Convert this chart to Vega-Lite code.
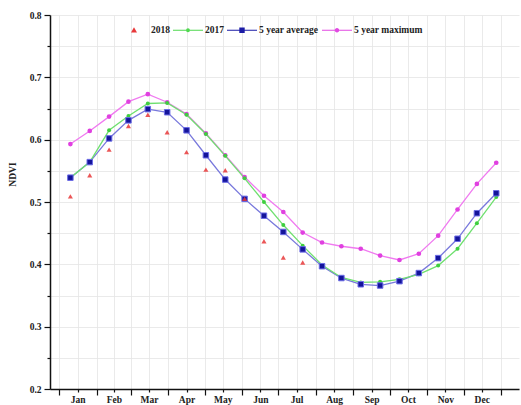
{
  "$schema": "https://vega.github.io/schema/vega-lite/v6.json",
  "width": 469,
  "height": 374,
  "autosize": "none",
  "padding": {"left": 50, "top": 15, "right": 2, "bottom": 16},
  "background": "white",
  "view": {"stroke": null},
  "data": {"values": [
    {"s": "2018", "d": 9, "v": 0.509}, {"s": "2018", "d": 25, "v": 0.543}, {"s": "2018", "d": 41, "v": 0.584},
    {"s": "2018", "d": 57, "v": 0.622}, {"s": "2018", "d": 73, "v": 0.640}, {"s": "2018", "d": 89, "v": 0.612},
    {"s": "2018", "d": 105, "v": 0.580}, {"s": "2018", "d": 121, "v": 0.552}, {"s": "2018", "d": 137, "v": 0.551},
    {"s": "2018", "d": 153, "v": 0.505}, {"s": "2018", "d": 169, "v": 0.437}, {"s": "2018", "d": 185, "v": 0.411},
    {"s": "2018", "d": 201, "v": 0.403},
    {"s": "2017", "d": 9, "v": 0.539}, {"s": "2017", "d": 25, "v": 0.564}, {"s": "2017", "d": 41, "v": 0.615},
    {"s": "2017", "d": 57, "v": 0.638}, {"s": "2017", "d": 73, "v": 0.658}, {"s": "2017", "d": 89, "v": 0.659},
    {"s": "2017", "d": 105, "v": 0.640}, {"s": "2017", "d": 121, "v": 0.609}, {"s": "2017", "d": 137, "v": 0.574},
    {"s": "2017", "d": 153, "v": 0.538}, {"s": "2017", "d": 169, "v": 0.500}, {"s": "2017", "d": 185, "v": 0.463},
    {"s": "2017", "d": 201, "v": 0.430}, {"s": "2017", "d": 217, "v": 0.399}, {"s": "2017", "d": 233, "v": 0.379},
    {"s": "2017", "d": 249, "v": 0.371}, {"s": "2017", "d": 265, "v": 0.372}, {"s": "2017", "d": 281, "v": 0.376},
    {"s": "2017", "d": 297, "v": 0.384}, {"s": "2017", "d": 313, "v": 0.398}, {"s": "2017", "d": 329, "v": 0.425},
    {"s": "2017", "d": 345, "v": 0.466}, {"s": "2017", "d": 361, "v": 0.508},
    {"s": "5 year average", "d": 9, "v": 0.539}, {"s": "5 year average", "d": 25, "v": 0.564}, {"s": "5 year average", "d": 41, "v": 0.602},
    {"s": "5 year average", "d": 57, "v": 0.631}, {"s": "5 year average", "d": 73, "v": 0.649}, {"s": "5 year average", "d": 89, "v": 0.644},
    {"s": "5 year average", "d": 105, "v": 0.615}, {"s": "5 year average", "d": 121, "v": 0.575}, {"s": "5 year average", "d": 137, "v": 0.536},
    {"s": "5 year average", "d": 153, "v": 0.505}, {"s": "5 year average", "d": 169, "v": 0.478}, {"s": "5 year average", "d": 185, "v": 0.452},
    {"s": "5 year average", "d": 201, "v": 0.424}, {"s": "5 year average", "d": 217, "v": 0.397}, {"s": "5 year average", "d": 233, "v": 0.378},
    {"s": "5 year average", "d": 249, "v": 0.368}, {"s": "5 year average", "d": 265, "v": 0.366}, {"s": "5 year average", "d": 281, "v": 0.373},
    {"s": "5 year average", "d": 297, "v": 0.386}, {"s": "5 year average", "d": 313, "v": 0.410}, {"s": "5 year average", "d": 329, "v": 0.441},
    {"s": "5 year average", "d": 345, "v": 0.482}, {"s": "5 year average", "d": 361, "v": 0.514},
    {"s": "5 year maximum", "d": 9, "v": 0.593}, {"s": "5 year maximum", "d": 25, "v": 0.614}, {"s": "5 year maximum", "d": 41, "v": 0.637},
    {"s": "5 year maximum", "d": 57, "v": 0.661}, {"s": "5 year maximum", "d": 73, "v": 0.673}, {"s": "5 year maximum", "d": 89, "v": 0.660},
    {"s": "5 year maximum", "d": 105, "v": 0.641}, {"s": "5 year maximum", "d": 121, "v": 0.610}, {"s": "5 year maximum", "d": 137, "v": 0.575},
    {"s": "5 year maximum", "d": 153, "v": 0.540}, {"s": "5 year maximum", "d": 169, "v": 0.510}, {"s": "5 year maximum", "d": 185, "v": 0.484},
    {"s": "5 year maximum", "d": 201, "v": 0.451}, {"s": "5 year maximum", "d": 217, "v": 0.435}, {"s": "5 year maximum", "d": 233, "v": 0.429},
    {"s": "5 year maximum", "d": 249, "v": 0.425}, {"s": "5 year maximum", "d": 265, "v": 0.414}, {"s": "5 year maximum", "d": 281, "v": 0.407},
    {"s": "5 year maximum", "d": 297, "v": 0.417}, {"s": "5 year maximum", "d": 313, "v": 0.446}, {"s": "5 year maximum", "d": 329, "v": 0.488},
    {"s": "5 year maximum", "d": 345, "v": 0.529}, {"s": "5 year maximum", "d": 361, "v": 0.563}
  ]},
  "encoding": {
    "x": {
      "field": "d", "type": "quantitative",
      "scale": {"domain": [-7.85, 379.8], "nice": false, "zero": false},
      "axis": {
        "title": null,
        "values": [0, 15, 31, 45, 59, 74, 90, 105, 120, 135, 151, 166, 181, 196, 212, 227, 243, 258, 273, 288, 304, 319, 334, 349, 365],
        "labelExpr": "indexof([15,45,74,105,135,166,196,227,258,288,319,349], datum.value) >= 0 ? ['Jan','Feb','Mar','Apr','May','Jun','Jul','Aug','Sep','Oct','Nov','Dec'][indexof([15,45,74,105,135,166,196,227,258,288,319,349], datum.value)] : ''",
        "tickSize": {"condition": {"test": "indexof([15,45,74,105,135,166,196,227,258,288,319,349], datum.value) >= 0", "value": 3}, "value": 6},
        "labelOverlap": false,
        "labelFlush": false,
        "labelPadding": 2,
        "grid": true
      }
    },
    "y": {
      "field": "v", "type": "quantitative",
      "scale": {"domain": [0.2, 0.8], "nice": false, "zero": false},
      "axis": {
        "title": "NDVI",
        "values": [0.2, 0.25, 0.3, 0.35, 0.4, 0.45, 0.5, 0.55, 0.6, 0.65, 0.7, 0.75, 0.8],
        "labelExpr": "abs(datum.value * 10 - round(datum.value * 10)) < 0.01 ? format(datum.value, '.1f') : ''",
        "tickSize": {"condition": {"test": "abs(datum.value * 10 - round(datum.value * 10)) < 0.01", "value": 6}, "value": 3},
        "labelOverlap": false,
        "labelFlush": false,
        "labelPadding": 3,
        "grid": true,
        "titleX": -38,
        "titleY": 159,
        "titleAngle": 270,
        "titleAlign": "center",
        "titleBaseline": "middle"
      }
    }
  },
  "layer": [
    {
      "transform": [{"filter": "datum.s == '5 year maximum'"}],
      "mark": {"type": "line", "strokeWidth": 1.3, "color": "#f07af0"}
    },
    {
      "transform": [{"filter": "datum.s == '5 year average'"}],
      "mark": {"type": "line", "strokeWidth": 1.3, "color": "#7878dc"}
    },
    {
      "transform": [{"filter": "datum.s == '2017'"}],
      "mark": {"type": "line", "strokeWidth": 1.3, "color": "#6fe06f"}
    },
    {
      "transform": [{"filter": "datum.s == '5 year maximum'"}],
      "mark": {"type": "point", "filled": true, "shape": "circle", "size": 22, "color": "#e040e0", "opacity": 1}
    },
    {
      "transform": [{"filter": "datum.s == '2017'"}],
      "mark": {"type": "point", "filled": true, "shape": "circle", "size": 16, "color": "#3fcf3f", "opacity": 1}
    },
    {
      "transform": [{"filter": "datum.s == '5 year average'"}],
      "mark": {"type": "point", "filled": true, "shape": "square", "size": 30, "fill": "#14149a", "stroke": "#6a6ae6", "strokeWidth": 1, "opacity": 1}
    },
    {
      "transform": [{"filter": "datum.s == '2018'"}],
      "mark": {"type": "point", "filled": true, "shape": "triangle-up", "size": 26, "color": "#e8383a", "opacity": 0.85}
    },
    {
      "mark": {"type": "point", "filled": true, "opacity": 0},
      "encoding": {
        "color": {"field": "s", "type": "nominal",
          "scale": {"domain": ["2018", "2017", "5 year average", "5 year maximum"], "range": ["#e8383a", "#4fd84f", "#1c1ca6", "#e24ae2"]},
          "legend": {
            "title": null, "orient": "none", "direction": "horizontal", "legendX": 69, "legendY": 0,
            "symbolSize": 900, "symbolStrokeWidth": 0, "symbolOpacity": 1,
            "labelFont": "Liberation Serif", "labelFontWeight": "bold", "labelFontSize": 9.5, "labelColor": "#222",
            "labelOffset": 2, "columnPadding": 3, "padding": 0
          }
        },
        "shape": {"field": "s", "type": "nominal",
          "scale": {"domain": ["2018", "2017", "5 year average", "5 year maximum"],
            "range": [
              "M0,-0.2L0.2,0.15L-0.2,0.15Z",
              "M-1,-0.04H-0.13V0.04H-1Z M0.13,-0.04H1V0.04H0.13Z M-0.13,0A0.13,0.13 0 1,1 0.13,0A0.13,0.13 0 1,1 -0.13,0Z",
              "M-1,-0.04H-0.18V0.04H-1Z M0.18,-0.04H1V0.04H0.18Z M-0.18,-0.18H0.18V0.18H-0.18Z",
              "M-1,-0.04H-0.15V0.04H-1Z M0.15,-0.04H1V0.04H0.15Z M-0.15,0A0.15,0.15 0 1,1 0.15,0A0.15,0.15 0 1,1 -0.15,0Z"
            ]},
          "legend": {
            "title": null, "orient": "none", "direction": "horizontal", "legendX": 69, "legendY": 0,
            "symbolSize": 900, "symbolStrokeWidth": 0, "symbolOpacity": 1,
            "labelFont": "Liberation Serif", "labelFontWeight": "bold", "labelFontSize": 9.5, "labelColor": "#222",
            "labelOffset": 2, "columnPadding": 3, "padding": 0
          }
        }
      }
    }
  ],
  "config": {
    "font": "Liberation Serif",
    "axis": {
      "domainColor": "#111", "domainWidth": 1.5,
      "tickColor": "#111", "tickWidth": 1.2,
      "gridColor": "#e4e4e4", "gridWidth": 0.8,
      "labelFont": "Liberation Serif", "labelFontWeight": "bold", "labelFontSize": 9.5, "labelColor": "#222",
      "titleFont": "Liberation Serif", "titleFontWeight": "bold", "titleFontSize": 9.5, "titleColor": "#222"
    }
  }
}
